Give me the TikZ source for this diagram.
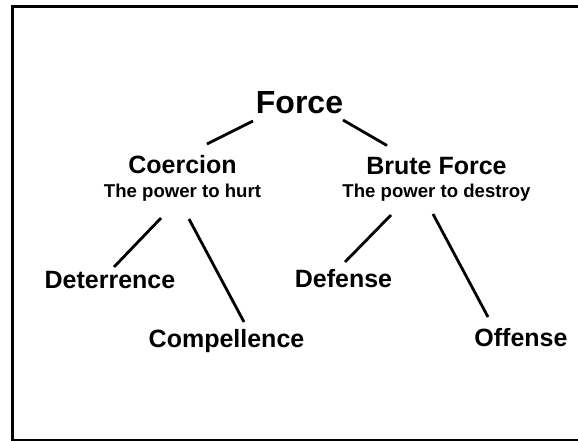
\documentclass[tikz,border=0pt]{standalone}
\usepackage{fontspec}
\setmainfont{Liberation Sans}
\begin{document}
\begin{tikzpicture}[x=1pt,y=-1pt,
  lbl/.style={anchor=base,inner sep=0pt,font=\bfseries\fontsize{25}{30}\selectfont},
  toplbl/.style={lbl,font=\bfseries\fontsize{32}{38}\selectfont},
  sub/.style={anchor=base,inner sep=0pt,font=\bfseries\fontsize{18.6}{22}\selectfont},
  branch/.style={line width=2.8pt}]
\useasboundingbox (0,0) rectangle (578,440);
\clip (0,0) rectangle (578,440);
% slide frame
\draw[line width=3pt] (12.5,6.5) rectangle (582,440);
% labels
\node[toplbl] (force) at (299.5,113) {Force};
\node[lbl] (coercion) at (182.5,173) {Coercion};
\node[sub] (hurt) at (182.5,197) {The power to hurt};
\node[lbl] (brute) at (436.5,174) {Brute Force};
\node[sub] (destroy) at (436.5,197) {The power to destroy};
\node[lbl] (deter) at (110,288) {Deterrence};
\node[lbl] (compel) at (226.5,347) {Compellence};
\node[lbl] (defense) at (343.5,287) {Defense};
\node[lbl] (offense) at (521,346) {Offense};
% end points of the branches
\coordinate (fL) at (253,121);
\coordinate (cT) at (207,144);
\coordinate (fR) at (343,120);
\coordinate (bT) at (387,145.5);
\coordinate (hL) at (161,218);
\coordinate (dT) at (114,267);
\coordinate (hR) at (189,219);
\coordinate (cpT) at (244,322);
\coordinate (sL) at (391,215);
\coordinate (dfT) at (345,262);
\coordinate (sR) at (433,214);
\coordinate (oT) at (488,317);
% branches
\draw[branch] (fL) -- (cT);
\draw[branch] (fR) -- (bT);
\draw[branch] (hL) -- (dT);
\draw[branch] (hR) -- (cpT);
\draw[branch] (sL) -- (dfT);
\draw[branch] (sR) -- (oT);
\end{tikzpicture}
\end{document}
